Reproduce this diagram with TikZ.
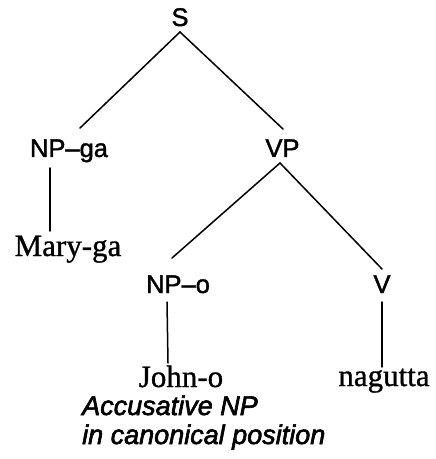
\documentclass[tikz,border=0pt]{standalone}
\usepackage{fontspec}
\setmainfont{Liberation Serif}
\setsansfont{Liberation Sans}
\font\catfont="Liberation Sans:embolden=1.6;mapping=tex-text" at 25.5bp
\font\wordfont="Liberation Serif:embolden=1.0;mapping=tex-text" at 31bp
\font\notefont="Liberation Sans/I:embolden=2.2;mapping=tex-text" at 27bp
\begin{document}
\begin{tikzpicture}[x=1bp,y=-1bp,
  cat/.style={inner sep=0pt,anchor=base,font=\catfont},
  word/.style={inner sep=0pt,anchor=base,font=\wordfont},
  note/.style={inner sep=0pt,anchor=base west,font=\notefont},
  branch/.style={line width=1.5bp,line cap=round}]
\useasboundingbox (0,0) rectangle (436,459);
\node[cat] (S) at (180,26) {S};
\node[cat] (NPga) at (69,157) {NP–ga};
\node[cat] (VP) at (282.5,157) {VP};
\node[word] (Mary) at (68,256) {Mary-ga};
\node[cat] (NPo) at (178,293) {NP–o};
\node[cat] (V) at (382,293) {V};
\node[word] (John) at (181,387) {John-o};
\node[word] (nag) at (384,386) {nagutta};
\node[note] (acc1) at (82,415) {Accusative NP};
\node[note] (acc2) at (82,444) {in canonical position};
\draw[branch] ([shift={(0,6)}]S.base) -- ([shift={(11,-29)}]NPga.base);
\draw[branch] ([shift={(0,6)}]S.base) -- ([shift={(0.5,-28)}]VP.base);
\draw[branch] ([shift={(-19,11)}]NPga.base) -- ([shift={(-18,-25)}]Mary.base);
\draw[branch] ([shift={(-2.5,6)}]VP.base) -- ([shift={(-6,-35)}]NPo.base);
\draw[branch] ([shift={(-2.5,6)}]VP.base) -- ([shift={(0,-24)}]V.base);
\draw[branch] ([shift={(-11,9)}]NPo.base) -- ([shift={(-13,-24)}]John.base);
\draw[branch] ([shift={(0,9)}]V.base) -- ([shift={(-2,-19)}]nag.base);
\end{tikzpicture}
\end{document}
